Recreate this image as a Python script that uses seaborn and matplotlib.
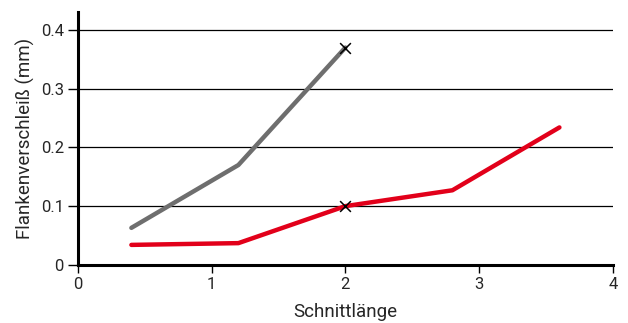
import matplotlib
matplotlib.use("Agg")
import matplotlib.pyplot as plt
import seaborn as sns
import pandas as pd

x_gray = [0.4, 1.2, 2.0]
y_gray = [0.063, 0.170, 0.370]
x_red = [0.4, 1.2, 2.0, 2.8, 3.6]
y_red = [0.034, 0.037, 0.100, 0.127, 0.234]
x_marks = [2.0, 2.0]
y_marks = [0.370, 0.100]
xticks = [0, 1, 2, 3, 4]
yticks = [0, 0.1, 0.2, 0.3, 0.4]
ytick_labels = ["0", "0.1", "0.2", "0.3", "0.4"]

sns.set_style("white")
plt.rcParams['font.family'] = ['Roboto', 'DejaVu Sans']

fig = plt.figure(figsize=(6.28, 3.23), dpi=100)
ax = fig.add_axes([0.124, 0.180, 0.852, 0.783])

for yv in yticks[1:]:
    ax.axhline(yv, color="black", lw=0.9, zorder=1)

sns.lineplot(x=x_gray, y=y_gray, ax=ax, color="#6e6e6e", lw=3.2, zorder=3)
sns.lineplot(x=x_red, y=y_red, ax=ax, color="#e2001a", lw=3.2, zorder=3)
ax.scatter(x_marks, y_marks, marker="x", s=60, color="black", linewidths=1.1, zorder=4)

ax.set_xlim(0, 4)
ax.set_ylim(0, 0.4306)
ax.set_xticks(xticks)
ax.set_xticklabels([str(v) for v in xticks])
ax.set_yticks(yticks)
ax.set_yticklabels(ytick_labels)

for s in ["top", "right"]:
    ax.spines[s].set_visible(False)
ax.spines["left"].set_linewidth(2.2)
ax.spines["bottom"].set_linewidth(2.2)
ax.spines["left"].set_color("black")
ax.spines["bottom"].set_color("black")
ax.tick_params(axis="x", direction="out", length=6, width=1, color="black", labelsize=12, pad=3)
ax.tick_params(axis="y", direction="out", length=7, width=1, color="black", labelsize=12, pad=3)
ax.tick_params(axis="both", left=True, bottom=True)

ax.set_xlabel("Schnittlänge", fontsize=13.5, labelpad=8)
ax.set_ylabel("Flankenverschleiß (mm)", fontsize=13.5, labelpad=4)

fig.savefig("out.png", dpi=100)
